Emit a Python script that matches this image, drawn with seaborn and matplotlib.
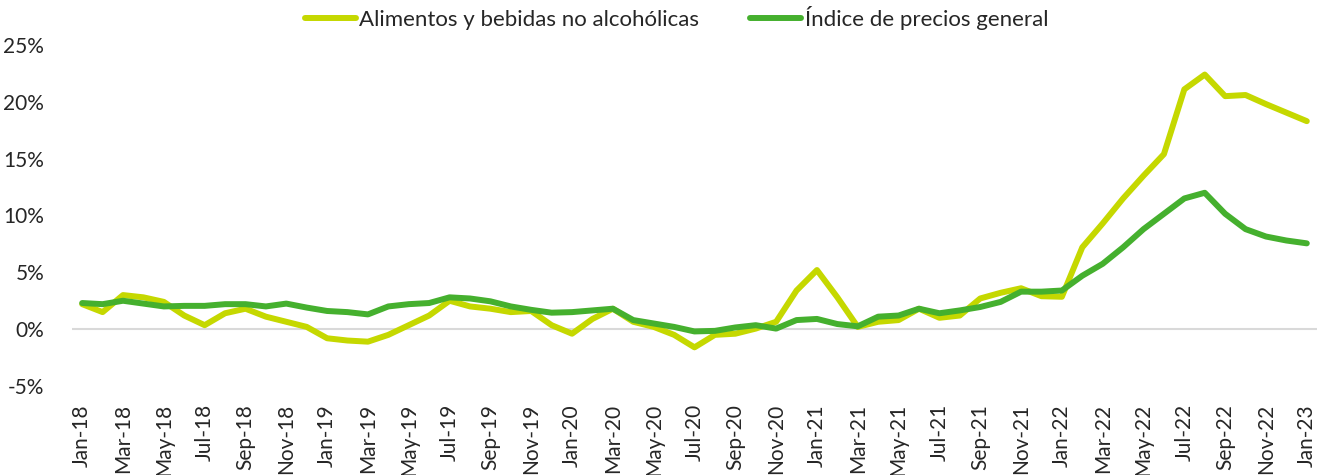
import matplotlib
matplotlib.use("Agg")
import matplotlib.pyplot as plt
from matplotlib.ticker import FuncFormatter, FixedLocator
from matplotlib.lines import Line2D
import seaborn as sns
import pandas as pd

months = ["Jan-18", "Feb-18", "Mar-18", "Apr-18", "May-18", "Jun-18", "Jul-18", "Aug-18", "Sep-18", "Oct-18", "Nov-18", "Dec-18",
          "Jan-19", "Feb-19", "Mar-19", "Apr-19", "May-19", "Jun-19", "Jul-19", "Aug-19", "Sep-19", "Oct-19", "Nov-19", "Dec-19",
          "Jan-20", "Feb-20", "Mar-20", "Apr-20", "May-20", "Jun-20", "Jul-20", "Aug-20", "Sep-20", "Oct-20", "Nov-20", "Dec-20",
          "Jan-21", "Feb-21", "Mar-21", "Apr-21", "May-21", "Jun-21", "Jul-21", "Aug-21", "Sep-21", "Oct-21", "Nov-21", "Dec-21",
          "Jan-22", "Feb-22", "Mar-22", "Apr-22", "May-22", "Jun-22", "Jul-22", "Aug-22", "Sep-22", "Oct-22", "Nov-22", "Dec-22",
          "Jan-23"]

food = [2.2, 1.5, 3.0, 2.8, 2.4, 1.2, 0.35, 1.4, 1.8, 1.1, 0.65, 0.2,
        -0.8, -1.0, -1.1, -0.5, 0.35, 1.2, 2.5, 2.0, 1.8, 1.5, 1.6, 0.35,
        -0.4, 0.9, 1.8, 0.65, 0.2, -0.5, -1.6, -0.5, -0.4, 0.05, 0.65, 3.4,
        5.2, 2.8, 0.2, 0.65, 0.8, 1.8, 1.0, 1.2, 2.7, 3.2, 3.6, 2.9,
        2.85, 7.2, 9.3, 11.5, 13.5, 15.4, 21.1, 22.4, 20.5, 20.6, 19.8, 19.05,
        18.3]

general = [2.3, 2.2, 2.5, 2.25, 2.0, 2.05, 2.05, 2.2, 2.2, 2.0, 2.25, 1.9,
           1.6, 1.5, 1.3, 2.0, 2.2, 2.3, 2.8, 2.7, 2.45, 2.0, 1.7, 1.45,
           1.5, 1.65, 1.8, 0.8, 0.5, 0.2, -0.2, -0.15, 0.15, 0.35, 0.05, 0.8,
           0.9, 0.45, 0.25, 1.1, 1.2, 1.8, 1.4, 1.65, 1.95, 2.4, 3.3, 3.3,
           3.4, 4.7, 5.75, 7.2, 8.8, 10.15, 11.5, 12.0, 10.15, 8.8, 8.15, 7.8,
           7.55]

series_names = ["Alimentos y bebidas no alcohólicas", "Índice de precios general"]
colors = ["#C5D800", "#45B02E"]

sns.set_style("white")
plt.rcParams['font.family'] = ['Lato', 'DejaVu Sans']

df = pd.DataFrame({
    "idx": list(range(len(months))) * 2,
    "value": [v / 100 for v in food] + [v / 100 for v in general],
    "serie": [series_names[0]] * len(food) + [series_names[1]] * len(general),
})

fig = plt.figure(figsize=(13.24, 4.75), dpi=100)
ax = fig.add_axes([72 / 1324, 1 - 386 / 475, (1317 - 72) / 1324, (386 - 45) / 475])

ax.axhline(0, color="#D9D9D9", lw=1.5, zorder=1)
sns.lineplot(data=df, x="idx", y="value", hue="serie", hue_order=series_names,
             palette=colors, linewidth=4.3, ax=ax, legend=False, zorder=3,
             solid_joinstyle="round", solid_capstyle="round")

ax.set_xlim(-0.5, len(months) - 0.5)
ax.set_ylim(-0.05, 0.25)
ax.yaxis.set_major_locator(FixedLocator([-0.05, 0, 0.05, 0.10, 0.15, 0.20, 0.25]))
ax.yaxis.set_major_formatter(FuncFormatter(lambda v, p: f"{v * 100:.0f}%"))
ax.set_xticks(list(range(0, len(months), 2)))
ax.set_xticklabels(months[::2], rotation=90, fontsize=15)
ax.tick_params(axis="x", length=0, pad=13)
ax.tick_params(axis="y", length=0, pad=20, labelsize=15)
ax.set_xlabel("")
ax.set_ylabel("")
for s in ax.spines.values():
    s.set_visible(False)

handles = [Line2D([0], [0], color=c, lw=4.3, solid_capstyle="round") for c in colors]
fig.legend(handles, series_names, loc="upper center", bbox_to_anchor=(0.511, 1.03), ncol=2,
           frameon=False, fontsize=16, handlelength=2.3, handletextpad=0.15, columnspacing=2.3)

fig.savefig("out.png", dpi=100)
